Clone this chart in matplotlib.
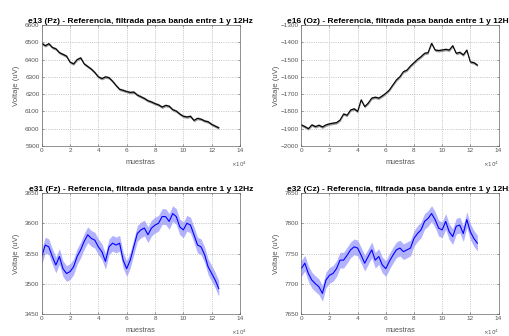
import matplotlib
matplotlib.use("Agg")
import matplotlib.pyplot as plt
import numpy as np

plt.rcParams["font.family"] = ["Liberation Sans", "DejaVu Sans"]

# muestras en unidades de 10^4, cada 2500 muestras
x_muestras = np.arange(0, 12.51, 0.25)

e13_pz = [6495, 6480, 6492, 6470, 6462, 6440, 6430, 6420, 6385, 6375,
          6400, 6410, 6375, 6360, 6345, 6325, 6300, 6290, 6300, 6295,
          6275, 6250, 6228, 6222, 6215, 6210, 6212, 6195, 6185, 6175,
          6162, 6155, 6145, 6138, 6125, 6135, 6130, 6110, 6102, 6085,
          6072, 6068, 6072, 6048, 6060, 6055, 6045, 6040, 6025, 6015,
          6005]

e16_oz = [-1878, -1888, -1900, -1878, -1888, -1880, -1890, -1878, -1872, -1868,
          -1865, -1850, -1815, -1822, -1792, -1785, -1800, -1733, -1772, -1752,
          -1723, -1718, -1723, -1710, -1695, -1676, -1647, -1618, -1599, -1570,
          -1561, -1537, -1518, -1499, -1483, -1464, -1460, -1406, -1445, -1448,
          -1445, -1441, -1445, -1420, -1464, -1458, -1473, -1445, -1514, -1518,
          -1532]

e31_fz = [3545, 3564, 3561, 3545, 3531, 3545, 3525, 3517, 3520, 3528,
          3545, 3556, 3570, 3581, 3575, 3572, 3561, 3553, 3537, 3561,
          3567, 3564, 3567, 3539, 3525, 3539, 3561, 3583, 3589, 3592,
          3581, 3592, 3597, 3600, 3611, 3611, 3603, 3616, 3611, 3594,
          3589, 3600, 3597, 3581, 3564, 3561, 3548, 3528, 3517, 3506,
          3492]

e32_cz = [7725, 7734, 7717, 7706, 7700, 7695, 7684, 7706, 7714, 7717,
          7725, 7739, 7739, 7747, 7756, 7761, 7759, 7747, 7734, 7745,
          7756, 7739, 7745, 7731, 7725, 7737, 7747, 7756, 7759, 7753,
          7756, 7759, 7775, 7783, 7789, 7803, 7808, 7816, 7806, 7792,
          7789, 7803, 7786, 7778, 7795, 7797, 7783, 7806, 7786, 7775,
          7767]

titulos = [
    "e13 (Pz) - Referencia, filtrada pasa banda entre 1 y 12Hz",
    "e16 (Oz) - Referencia, filtrada pasa banda entre 1 y 12Hz",
    "e31 (Fz) - Referencia, filtrada pasa banda entre 1 y 12Hz",
    "e32 (Cz) - Referencia, filtrada pasa banda entre 1 y 12Hz",
]
y_limites = [(5900, 6600), (-2000, -1300), (3450, 3650), (7650, 7850)]
y_paso = [100, 100, 50, 50]
colores = ["black", "black", "blue", "blue"]
banda = [8, 8, 13, 13]
banda_alpha = [0.4, 0.4, 0.3, 0.3]

W, H = 509, 336
# (left, right, top, bottom) en pixeles
cajas = [(41.7, 240, 25, 146), (301.3, 498.5, 25, 146),
         (41.7, 240, 193, 314), (301.3, 498.5, 193, 314)]
# posicion x del texto x10^4 (fraccion del eje), columna izq / der
pos_exp = [1.035, 1.0, 1.035, 1.0]

fig = plt.figure(figsize=(W / 100, H / 100), dpi=100)
gris = "#555555"

for i, serie in enumerate([e13_pz, e16_oz, e31_fz, e32_cz]):
    l, r, t, b = cajas[i]
    ax = fig.add_axes([l / W, 1 - b / H, (r - l) / W, (b - t) / H])
    y = np.array(serie, dtype=float)
    ax.fill_between(x_muestras, y - banda[i], y + banda[i],
                    color=colores[i], alpha=banda_alpha[i], lw=0)
    ax.plot(x_muestras, y, color=colores[i], lw=0.8)

    ax.set_xlim(0, 14)
    ax.set_ylim(*y_limites[i])
    ax.set_xticks(np.arange(0, 15, 2))
    lo, hi = y_limites[i]
    ax.set_yticks(np.arange(lo, hi + 1, y_paso[i]))
    ax.grid(True, color="#a0a0a0", linestyle=":", linewidth=0.5)
    ax.tick_params(direction="in", length=1.5, width=0.4, labelsize=4.6,
                   colors=gris, top=True, right=True, pad=1.5)
    for sp in ax.spines.values():
        sp.set_color("#666666")
        sp.set_linewidth(0.5)

    ax.set_title(titulos[i], fontsize=6, fontweight="bold", pad=1.5)
    ax.set_ylabel("Voltaje (uV)", fontsize=5.6, color=gris, va="center")
    ax.yaxis.set_label_coords(-0.125, 0.5)
    ax.set_xlabel("muestras", fontsize=5.2, color=gris, va="center")
    ax.xaxis.set_label_coords(0.5, -0.14)
    ax.text(pos_exp[i], -0.15, r"$\times10^4$", transform=ax.transAxes,
            fontsize=4, color=gris, ha="right", va="center")

fig.savefig("out.png", dpi=100)
